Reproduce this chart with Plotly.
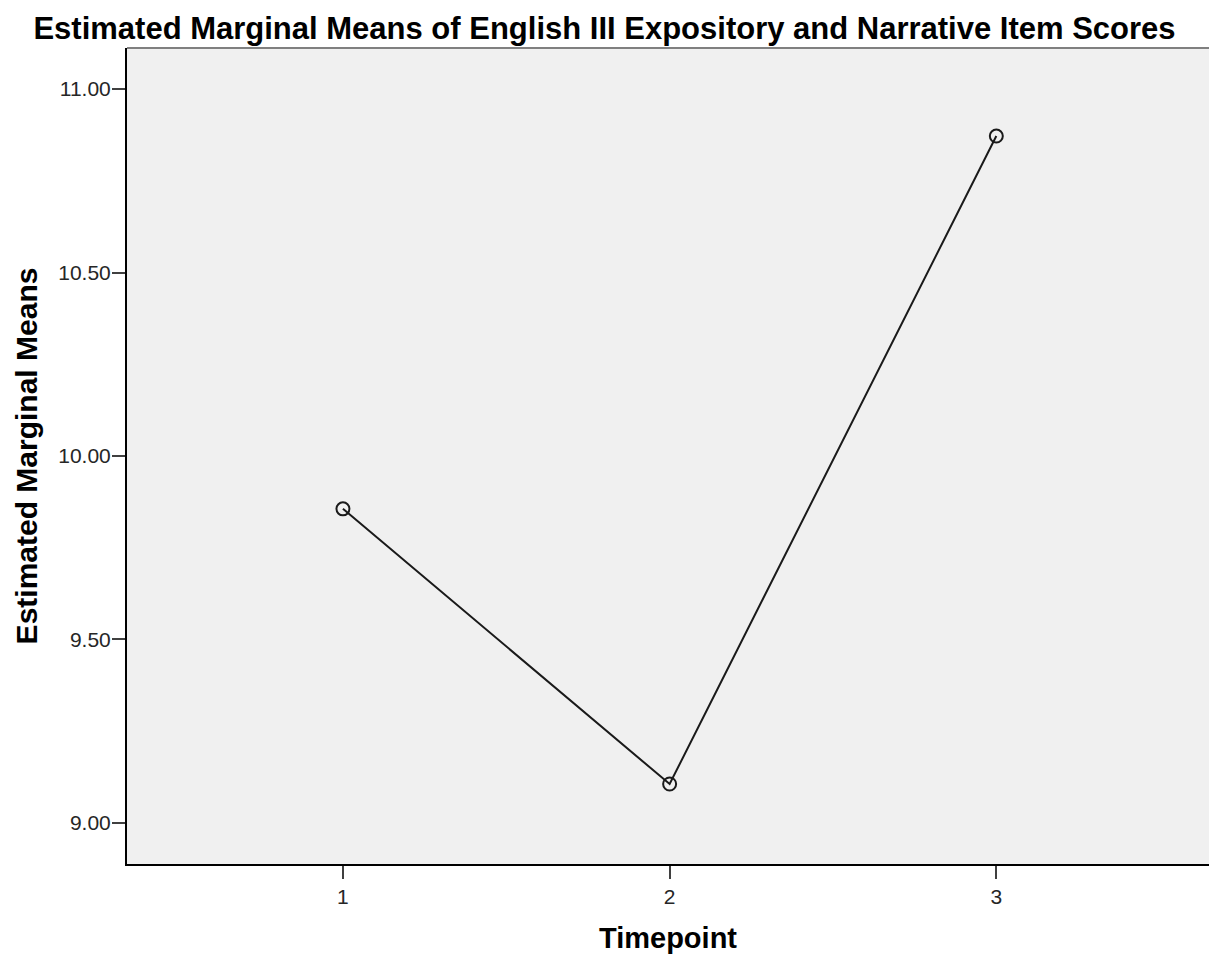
import plotly.graph_objects as go

timepoints = [1, 2, 3]
means = [9.856, 9.106, 10.872]
y_ticks = [9.0, 9.5, 10.0, 10.5, 11.0]
y_tick_labels = ["9.00", "9.50", "10.00", "10.50", "11.00"]
x_tick_labels = ["1", "2", "3"]

fig = go.Figure()
fig.add_trace(go.Scatter(
    x=timepoints, y=means, mode="lines+markers",
    line=dict(color="#1a1a1a", width=2),
    marker=dict(symbol="circle-open", size=13, color="#1a1a1a", line=dict(width=2)),
    showlegend=False, hoverinfo="x+y",
))

font_family = "Arial, Liberation Sans, sans-serif"
fig.update_layout(
    width=1209, height=957,
    margin=dict(l=127, r=0, t=48, b=93),
    paper_bgcolor="white", plot_bgcolor="#f0f0f0",
    font=dict(family=font_family, color="#000000"),
    title=dict(text="<b>Estimated Marginal Means of English III Expository and Narrative Item Scores</b>",
               x=0.5, xref="container", y=1 - 28 / 957, yref="container", yanchor="middle",
               xanchor="center", font=dict(size=31, family=font_family, color="#000")),
    xaxis=dict(range=[0.339, 3.651], tickvals=timepoints, ticktext=x_tick_labels,
               showgrid=False, zeroline=False, showline=True, linecolor="#000", linewidth=2,
               ticks="outside", ticklen=13, tickwidth=2, tickcolor="#404040",
               tickfont=dict(size=21, color="#262626"),
               title=dict(text="<b>Timepoint</b>", font=dict(size=29), standoff=20)),
    yaxis=dict(range=[8.888, 11.112], tickvals=y_ticks, ticktext=y_tick_labels,
               showgrid=False, zeroline=False, showline=True, linecolor="#000", linewidth=2,
               ticks="outside", ticklen=13, tickwidth=2, tickcolor="#404040",
               tickfont=dict(size=21, color="#262626"), ticklabelstandoff=-3,
               title=dict(text="<b>Estimated Marginal Means</b>", font=dict(size=30), standoff=12)),
)
fig.add_shape(type="line", xref="paper", yref="paper", x0=0, x1=1, y0=1, y1=1,
              line=dict(color="#808080", width=2))

fig.write_html("out.html", config={"displayModeBar": False},
               post_script="document.body.style.margin='0';document.body.style.overflow='hidden';")
